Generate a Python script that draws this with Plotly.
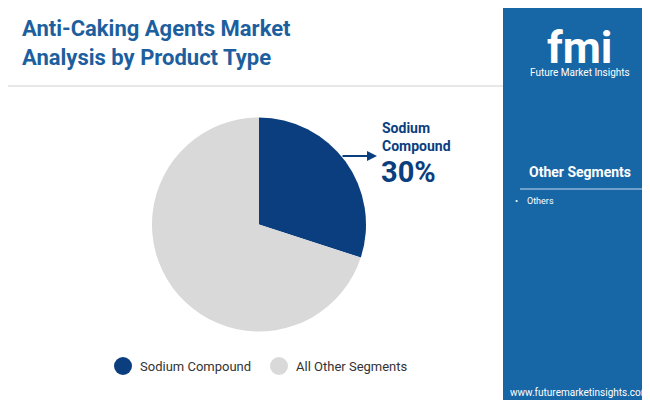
import plotly.graph_objects as go

labels = ["Sodium Compound", "All Other Segments"]
values = [30, 70]
colors = ["#0b3e7e", "#d9d9d9"]
W, H = 650, 400

def px(x): return x / W
def py(y): return 1 - y / H

fig = go.Figure(go.Pie(labels=labels, values=values, sort=False, direction="clockwise",
                       rotation=0, marker=dict(colors=colors, line=dict(width=0)),
                       textinfo="none", hoverinfo="label+percent", showlegend=False,
                       domain=dict(x=[px(144), px(358)], y=[py(324), py(109)])))

shapes = [
    dict(type="rect", xref="paper", yref="paper", x0=px(495), x1=1, y0=0, y1=1,
         fillcolor="#1766a6", line=dict(width=0), layer="below"),
    dict(type="line", xref="paper", yref="paper", x0=0, x1=px(495), y0=py(78), y1=py(78),
         line=dict(color="#d0d0d0", width=1)),
    dict(type="line", xref="paper", yref="paper", x0=px(512), x1=px(642), y0=py(181), y1=py(181),
         line=dict(color="#8fb6d8", width=1.5)),
    dict(type="rect", xref="paper", yref="paper", x0=0, x1=px(165), y0=0, y1=py(396),
         fillcolor="#8cc04b", line=dict(width=0)),
    dict(type="rect", xref="paper", yref="paper", x0=px(165), x1=px(330), y0=0, y1=py(396),
         fillcolor="#e0562a", line=dict(width=0)),
    dict(type="rect", xref="paper", yref="paper", x0=px(330), x1=px(495), y0=0, y1=py(396),
         fillcolor="#7d2d8a", line=dict(width=0)),
    dict(type="circle", xref="paper", yref="paper", x0=px(106), x1=px(124), y0=py(367), y1=py(349),
         fillcolor=colors[0], line=dict(width=0)),
    dict(type="circle", xref="paper", yref="paper", x0=px(262), x1=px(280), y0=py(367), y1=py(349),
         fillcolor=colors[1], line=dict(width=0)),
]

ann = [
    dict(x=px(12), y=py(6), text="<b>Anti-Caking Agents Market<br>Analysis by Product Type</b>",
         xanchor="left", yanchor="top", showarrow=False, align="left",
         font=dict(size=22, color="#1d5f9e", family="Roboto")),
    dict(x=px(372), y=py(110), text="<b>Sodium<br>Compound</b>", xanchor="left", yanchor="top",
         showarrow=False, align="left", font=dict(size=14, color="#0b3e7e", family="Roboto")),
    dict(x=px(371), y=py(164), text="<b>30%</b>", xanchor="left", yanchor="middle",
         showarrow=False, font=dict(size=29, color="#0b3e7e", family="Roboto")),
    dict(x=px(369), y=py(148), ax=-36, ay=0, text="", showarrow=True, arrowhead=2, arrowsize=1,
         arrowwidth=2, arrowcolor="#0b3e7e"),
    dict(x=px(130), y=py(358), text="Sodium Compound", xanchor="left", yanchor="middle",
         showarrow=False, font=dict(size=13, color="#333", family="Roboto")),
    dict(x=px(286), y=py(358), text="All Other Segments", xanchor="left", yanchor="middle",
         showarrow=False, font=dict(size=13, color="#333", family="Roboto")),
    dict(x=px(572), y=py(40), text="<b>fmi</b>", xanchor="center", yanchor="middle",
         showarrow=False, font=dict(size=44, color="white", family="Roboto")),
    dict(x=px(572), y=py(65), text="Future Market Insights", xanchor="center", yanchor="middle",
         showarrow=False, font=dict(size=10, color="white", family="Roboto")),
    dict(x=px(572), y=py(164), text="<b>Other Segments</b>", xanchor="center", yanchor="middle",
         showarrow=False, font=dict(size=14, color="white", family="Roboto")),
    dict(x=px(505), y=py(193), text="•    Others", xanchor="left", yanchor="middle",
         showarrow=False, font=dict(size=9, color="white", family="Roboto")),
    dict(x=px(572), y=py(384), text="www.futuremarketinsights.com", xanchor="center", yanchor="middle",
         showarrow=False, font=dict(size=10, color="white", family="Roboto")),
]
for a in ann:
    a.setdefault("xref", "paper"); a.setdefault("yref", "paper")

fig.update_layout(width=W, height=H, margin=dict(l=0, r=0, t=0, b=0),
                  paper_bgcolor="white", plot_bgcolor="white",
                  shapes=shapes, annotations=ann)
fig.write_html("out.html")
